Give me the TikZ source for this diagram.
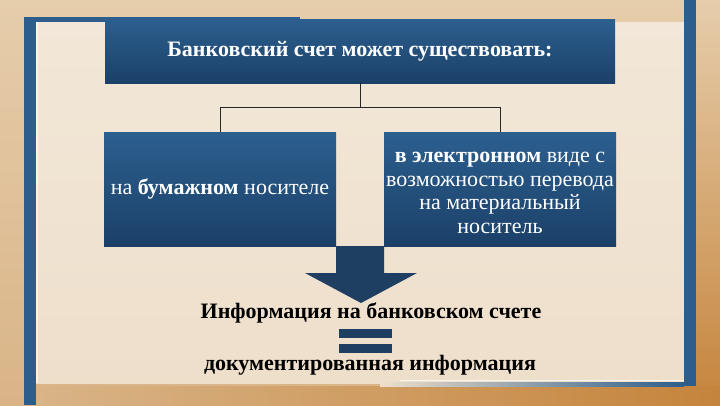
\documentclass[tikz,border=0pt]{standalone}
\usepackage{fontspec}
\setmainfont{Liberation Serif}
\definecolor{frameblue}{HTML}{2D5E8B}
\definecolor{boxtop}{HTML}{2C5F8F}
\definecolor{boxbot}{HTML}{1B4068}
\definecolor{darkblue}{HTML}{1E3E62}
\definecolor{panel}{HTML}{F2E7D8}
\definecolor{panelb}{HTML}{EEDFCB}
\definecolor{outer}{HTML}{E6CDAB}
\definecolor{outerb}{HTML}{D9B487}
\definecolor{orangebg}{HTML}{C5843C}
\begin{document}
\begin{tikzpicture}[x=1pt,y=-1pt,
  bluebox/.style={rectangle, top color=boxtop, bottom color=boxbot, draw=none,
    text=white, align=center, inner sep=0pt},
  boxtext/.style={text=white, align=center, inner sep=0pt},
  conn/.style={draw=black!85, line width=0.8pt},
  label/.style={text=black, font=\bfseries\fontsize{22}{24}\selectfont, inner sep=0pt},
  bar/.style={fill=frameblue, draw=none}]
\useasboundingbox (0,0) rectangle (720,405);
% background
\shade[top color=outer, bottom color=outerb] (0,0) rectangle (720,405);
\shade[top color=outer, bottom color=orangebg] (696,0) rectangle (720,405);
\shade[left color=outerb, right color=orangebg] (36,386) rectangle (720,405);
\shade[top color=panel, bottom color=panelb] (36,22) rectangle (684,383);
\fill[white, opacity=0.6] (36,22) rectangle (38,383);
% frame bars
\fill[bar] (24,17) rectangle (300,22);
\fill[bar] (24,17) rectangle (36,405);
\fill[bar] (684,0) rectangle (696,386);
\shade[left color=panelb, right color=frameblue] (380,382) rectangle (684,386);
\fill[white, opacity=0.7] (400,380) rectangle (684,381);
% boxes
\node[bluebox, minimum width=510pt, minimum height=64pt,
  font=\bfseries\fontsize{22}{24}\selectfont] (top) at (360,51)
  {Банковский счет может существовать:};
\node[bluebox, minimum width=232pt, minimum height=114pt,
  font=\fontsize{22}{23.5}\selectfont] (left) at (220,189)
  {на \textbf{бумажном} носителе};
\node[bluebox, minimum width=232pt, minimum height=114pt] (right) at (500,189) {};
\node[boxtext, font=\fontsize{22}{23.5}\selectfont] (righttxt) at ([yshift=-4pt]right.center)
  {\textbf{в электронном} виде с\\возможностью перевода\\на материальный\\носитель};
% connectors
\draw[conn] (top.south) -- ++(0,24) -| (left.north);
\draw[conn] (top.south) ++(0,24) -| (right.north);
% arrow
\fill[darkblue] (336,246) -- (384,246) -- (384,273) -- (417,273) -- (361,303)
  -- (305,273) -- (336,273) -- cycle;
% bottom texts
\node[label] (info) at (371,313) {Информация на банковском счете};
\fill[darkblue] (339,329) rectangle (392,338);
\fill[darkblue] (339,344) rectangle (392,353);
\node[label] (doc) at (370,365) {документированная информация};
\end{tikzpicture}
\end{document}
